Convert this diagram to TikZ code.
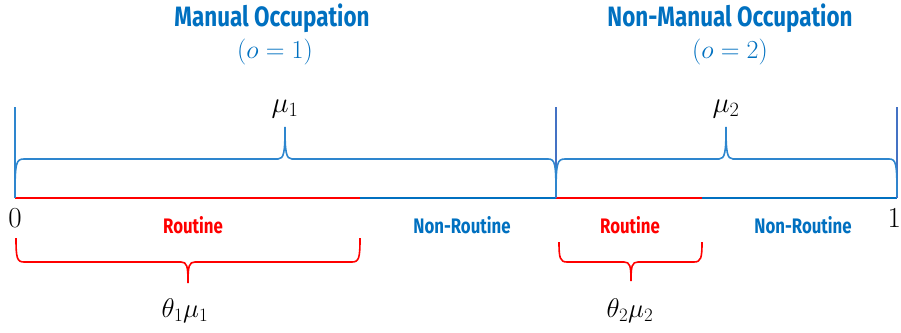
\RequirePackage{fix-cm}
\documentclass[tikz,border=0pt]{standalone}
\usepackage{amsmath}
\usepackage{fontspec}
\usepackage{tikz}

\newfontfamily\condfont[FakeStretch=0.8]{Fira Sans}
\definecolor{OccBlue}{RGB}{0,112,192}
\definecolor{EdgeBlue}{RGB}{68,114,196}
\definecolor{BraceBlue}{RGB}{46,134,206}
\definecolor{RoutRed}{RGB}{255,0,0}

\begin{document}
\begin{tikzpicture}[x=1pt,y=-1pt]
\tikzstyle{every node}=[inner sep=0pt,anchor=base]
\tikzstyle{titletext}=[font=\condfont\bfseries\fontsize{28}{31}\selectfont,text=OccBlue]
\tikzstyle{indextext}=[font=\fontsize{26}{30}\selectfont,text=OccBlue]
\tikzstyle{mathtext}=[font=\fontsize{29}{33}\selectfont]
\tikzstyle{tasktext}=[font=\condfont\bfseries\fontsize{21}{24}\selectfont]

\useasboundingbox (0,0) rectangle (901,332);

\coordinate (Zero) at (15,198);
\coordinate (Split) at (556,198);
\coordinate (One) at (897,198);
\coordinate (RoutineEndOne) at (360,198);
\coordinate (RoutineEndTwo) at (702,198);
\coordinate (ZeroTop) at (15,107);
\coordinate (SplitTop) at (556,107);
\coordinate (OneTop) at (897,107);

% the unit interval
\draw[line width=2pt,RoutRed] (Zero) -- (RoutineEndOne);
\draw[line width=2pt,OccBlue] (RoutineEndOne) -- (Split);
\draw[line width=2pt,RoutRed] (Split) -- (RoutineEndTwo);
\draw[line width=2pt,OccBlue] (RoutineEndTwo) -- (One);

\draw[line width=2pt,BraceBlue] (Zero) -- (ZeroTop);
\draw[line width=2pt,EdgeBlue] (Split) -- (SplitTop);
\draw[line width=2pt,EdgeBlue] (One) -- (OneTop);

% occupation braces
\draw[line width=1.6pt,BraceBlue] (15,196) .. controls (15,163) and (16,159) .. (24,159) -- (278,159)
  .. controls (284,159) and (285,152) .. (285,127) .. controls (285,152) and (286,159) .. (292,159)
  -- (548,159) .. controls (555,159) and (556,163) .. (556,196);
\draw[line width=1.6pt,BraceBlue] (556,196) .. controls (556,163) and (557,159) .. (565,159) -- (719,159)
  .. controls (725,159) and (726,152) .. (726,127) .. controls (726,152) and (727,159) .. (733,159)
  -- (889,159) .. controls (896,159) and (897,163) .. (897,196);

% routine braces
\draw[line width=1.6pt,RoutRed] (16,238) .. controls (16,258) and (17,262) .. (24,262) -- (181,262)
  .. controls (187,262) and (188,266) .. (188,283) .. controls (188,266) and (189,262) .. (195,262)
  -- (352,262) .. controls (359,262) and (360,258) .. (360,238);
\draw[line width=1.6pt,RoutRed] (559,242) .. controls (559,258) and (560,262) .. (567,262) -- (624,262)
  .. controls (630,262) and (631,266) .. (631,281) .. controls (631,266) and (632,262) .. (638,262)
  -- (694,262) .. controls (701,262) and (702,258) .. (702,242);

\node[titletext] (ManualTitle) at (272,27) {Manual Occupation};
\node[indextext] (ManualIndex) at (275,58) {$(o=1)$};
\node[titletext] (NonManualTitle) at (730,27) {Non-Manual Occupation};
\node[indextext] (NonManualIndex) at (730,58) {$(o=2)$};

\node[mathtext] (MuOne) at (285,112) {$\mu_1$};
\node[mathtext] (MuTwo) at (726,112) {$\mu_2$};
\node[mathtext] (ZeroLabel) at (15,227) {$0$};
\node[mathtext,anchor=base east] (OneLabel) at (901,227) {$1$};

\node[tasktext,text=RoutRed] (RoutineOne) at (193,233) {Routine};
\node[tasktext,text=OccBlue] (NonRoutineOne) at (462,233) {Non-Routine};
\node[tasktext,text=RoutRed] (RoutineTwo) at (630,233) {Routine};
\node[tasktext,text=OccBlue] (NonRoutineTwo) at (803,233) {Non-Routine};

\node[mathtext,font=\fontsize{27}{31}\selectfont] (ThetaMuOne) at (185,317) {$\theta_1\mu_1$};
\node[mathtext,font=\fontsize{27}{31}\selectfont] (ThetaMuTwo) at (630,317) {$\theta_2\mu_2$};
\end{tikzpicture}
\end{document}
